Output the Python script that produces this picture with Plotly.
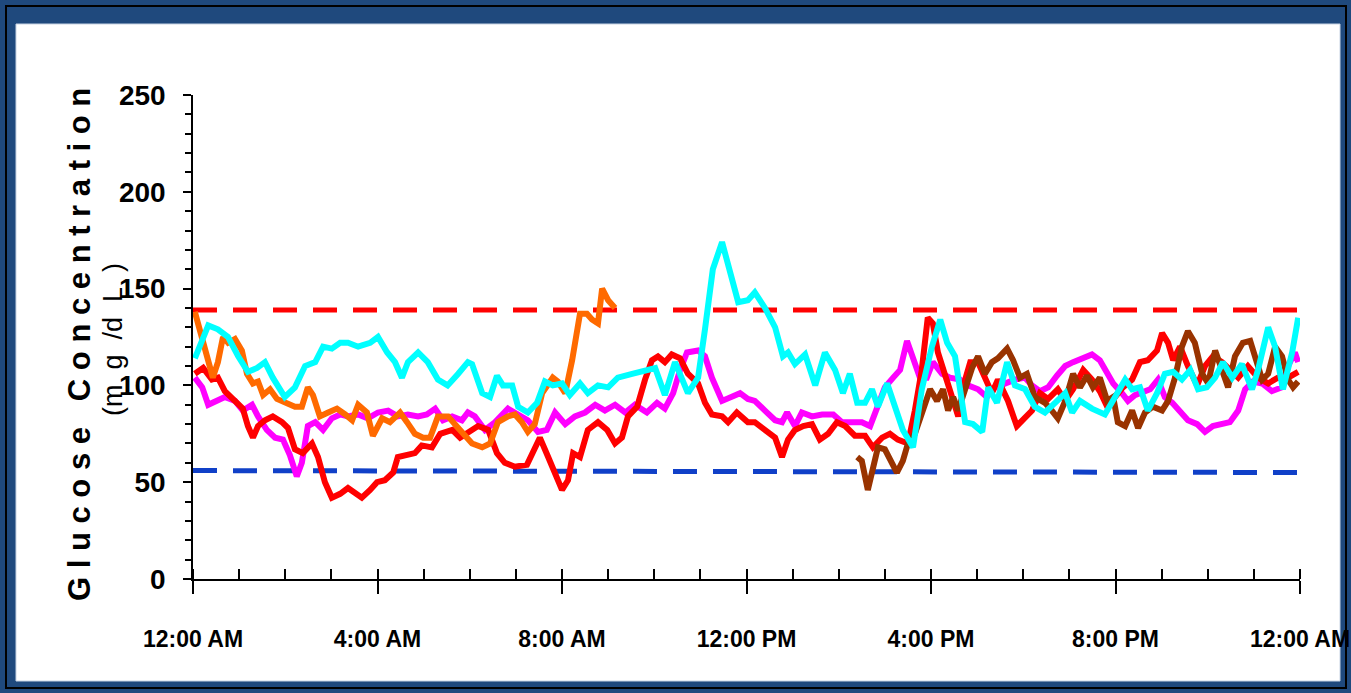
import plotly.graph_objects as go

# ---------------- data (hours since midnight, glucose mg/dL) ----------------
cyan_h = [0.04,0.33,0.54,0.76,0.98,1.19,1.39,1.56,1.73,1.99,2.21,2.43,2.65,2.82,3.01,3.19,3.36,3.58,3.84,4.01,
          4.21,4.38,4.53,4.66,4.88,5.09,5.31,5.52,5.75,5.96,6.05,6.27,6.44,6.59,6.72,6.92,7.05,7.26,7.46,7.63,
          7.80,8.00,8.17,8.39,8.56,8.78,9.00,9.21,9.52,9.84,10.02,10.23,10.45,10.73,10.95,11.10,11.27,11.47,11.69,11.82,
          12.03,12.18,12.40,12.62,12.79,12.90,13.05,13.27,13.49,13.70,13.92,14.09,14.24,14.40,14.57,14.72,14.85,15.05,15.22,15.39,
          15.61,15.80,16.02,16.20,16.35,16.52,16.74,16.91,17.11,17.24,17.43,17.65,17.82,18.04,18.25,18.47,18.69,18.91,19.06,19.23,
          19.49,19.77,19.99,20.21,20.36,20.53,20.70,20.90,21.07,21.25,21.44,21.62,21.79,21.98,22.16,22.33,22.53,22.74,22.96,23.09,
          23.31,23.46,23.63,23.83,23.96]
cyan_v = [114,131,129,125,115,107,109,112,104,94,99,110,112,120,119,122,122,120,122,125,
          117,112,104,112,117,112,103,100,106,112,111,96,94,105,100,100,89,86,91,102,
          100,101,95,101,96,100,99,104,106,108,109,95,112,96,104,129,160,174,154,143,
          144,148,140,130,115,117,111,116,100,117,108,96,106,91,91,98,89,101,89,77,
          68,98,120,134,122,115,81,80,76,99,91,112,100,98,89,86,91,96,86,92,
          88,85,94,103,98,99,87,96,106,107,103,108,98,99,104,112,104,111,98,108,
          130,120,98,117,135]

red_h = [0.04,0.22,0.41,0.54,0.69,0.91,1.08,1.19,1.30,1.41,1.56,1.73,1.93,2.06,2.21,2.38,2.58,2.71,2.86,3.01,
         3.19,3.36,3.51,3.66,3.84,3.99,4.16,4.34,4.44,4.60,4.81,4.96,5.18,5.36,5.62,5.79,5.96,6.18,6.40,6.59,
         6.76,6.98,7.24,7.41,7.52,7.70,7.89,8.00,8.13,8.24,8.39,8.56,8.78,8.98,9.15,9.30,9.43,9.63,9.80,9.95,
         10.08,10.23,10.38,10.56,10.73,10.95,11.10,11.25,11.47,11.60,11.79,12.03,12.18,12.40,12.62,12.77,12.90,13.05,13.23,13.42,
         13.59,13.77,13.96,14.14,14.35,14.57,14.74,14.94,15.11,15.28,15.50,15.65,15.80,15.93,16.04,16.15,16.30,16.46,16.59,16.74,
         16.85,17.02,17.17,17.32,17.45,17.67,17.86,18.04,18.19,18.36,18.54,18.75,18.91,19.08,19.30,19.49,19.66,19.82,19.99,20.16,
         20.36,20.53,20.70,20.90,21.01,21.14,21.25,21.40,21.57,21.77,21.94,22.11,22.31,22.48,22.66,22.87,23.09,23.31,23.52,23.74,
         23.96]
red_v = [106,109,103,104,97,92,88,79,73,79,82,84,81,78,67,65,70,63,50,42,
         44,47,44,42,46,50,51,55,63,64,65,69,68,75,77,73,76,79,77,65,
         60,58,59,68,73,63,51,46,51,65,63,77,81,77,70,73,84,89,103,113,
         115,112,116,114,106,101,91,85,84,81,86,81,81,77,73,63,72,77,79,80,
         72,75,81,79,74,74,68,73,75,72,70,87,108,135,132,117,106,94,84,103,
         112,112,104,96,103,92,79,84,87,96,93,98,92,98,108,103,97,89,94,99,
         103,112,113,118,127,122,113,120,110,100,110,115,112,108,104,110,104,101,104,104,
         107]

magenta_h = [0.04,0.20,0.33,0.48,0.69,0.91,1.08,1.28,1.41,1.60,1.78,1.95,2.10,2.25,2.36,2.49,2.65,2.82,3.01,3.19,
             3.36,3.58,3.79,4.01,4.23,4.44,4.66,4.88,5.07,5.25,5.42,5.62,5.83,5.96,6.11,6.33,6.55,6.83,7.05,7.26,
             7.48,7.67,7.85,8.07,8.28,8.50,8.72,8.93,9.15,9.37,9.58,9.84,10.06,10.23,10.41,10.56,10.71,10.95,11.10,11.25,
             11.47,11.69,11.86,12.03,12.18,12.40,12.62,12.77,12.88,13.05,13.20,13.42,13.64,13.88,14.07,14.29,14.50,14.68,14.83,15.00,
             15.18,15.33,15.48,15.61,15.76,15.91,16.04,16.24,16.41,16.63,16.80,17.02,17.21,17.39,17.60,17.82,18.04,18.19,18.36,18.54,
             18.73,18.91,19.08,19.27,19.49,19.66,19.82,19.95,20.14,20.27,20.42,20.57,20.75,20.92,21.07,21.23,21.40,21.57,21.77,21.94,
             22.11,22.31,22.48,22.66,22.81,22.98,23.18,23.39,23.61,23.74,23.89,23.96]
magenta_v = [104,99,90,92,94,92,87,90,84,77,73,72,64,53,60,79,81,77,83,85,
             84,85,83,86,87,84,85,84,85,88,82,84,82,86,84,77,81,88,85,82,
             76,77,86,80,84,86,90,87,90,86,90,86,91,88,96,108,117,118,115,104,
             92,94,96,93,92,87,82,81,86,79,86,84,85,85,81,81,81,79,89,99,
             104,108,123,113,104,104,112,106,104,103,100,98,94,99,101,103,104,100,97,99,
             105,110,112,114,116,113,107,101,96,92,95,96,98,103,94,91,87,82,80,76,
             79,80,81,87,98,102,101,97,99,110,117,112]

orange_h = [0.04,0.20,0.33,0.43,0.54,0.65,0.76,0.91,1.06,1.17,1.30,1.41,1.52,1.67,1.82,1.99,2.21,2.36,2.49,2.60,
            2.75,2.93,3.12,3.30,3.45,3.58,3.77,3.90,4.10,4.27,4.49,4.64,4.81,4.99,5.14,5.31,5.53,5.75,5.96,6.05,
            6.27,6.44,6.61,6.83,6.98,7.13,7.26,7.41,7.57,7.70,7.80,7.91,8.07,8.22,8.39,8.54,8.65,8.78,8.87,9.00,
            9.15]
orange_v = [138,125,112,104,112,125,122,124,118,106,101,102,95,98,93,91,89,89,99,95,
            84,86,88,85,82,90,86,74,83,81,86,81,75,73,73,84,84,78,73,70,
            68,70,81,84,85,81,76,80,96,100,104,102,96,113,137,137,134,132,150,144,
            140]

brown_h = [14.40,14.50,14.63,14.74,14.85,15.00,15.15,15.26,15.39,15.50,15.65,15.93,15.98,16.13,16.26,16.37,16.48,16.59,16.74,16.89,
           17.02,17.17,17.32,17.45,17.65,17.78,17.93,18.08,18.25,18.47,18.62,18.75,18.91,19.08,19.23,19.38,19.51,19.66,19.82,19.95,
           20.05,20.21,20.36,20.49,20.64,20.81,21.01,21.14,21.29,21.44,21.57,21.72,21.88,22.01,22.16,22.31,22.44,22.59,22.76,22.92,
           23.02,23.18,23.31,23.46,23.61,23.74,23.85,23.96]
brown_v = [63,61,46,56,68,67,60,55,61,70,75,96,98,92,98,87,94,87,99,109,
           115,106,112,114,119,113,104,106,94,91,87,83,92,106,99,105,99,104,92,94,
           81,79,87,78,86,89,87,92,104,120,128,122,106,101,118,108,99,115,122,123,
           115,103,106,120,115,103,99,102]

limit_h = [0, 24]
upper_limit = [139, 139]
lower_limit = [56, 55]

tick_hours = [0, 4, 8, 12, 16, 20, 24]
tick_text = ["12:00 AM", "4:00 AM", "8:00 AM", "12:00 PM", "4:00 PM", "8:00 PM", "12:00 AM"]

# ---------------- figure ----------------
W, H = 1351, 693
L, R, T, B = 193, 51, 95, 114
pw, ph = W - L - R, H - T - B

def px(x):
    return (x - L) / pw

def py(y):
    return (H - B - y) / ph

fig = go.Figure()

fig.add_trace(go.Scatter(x=limit_h, y=upper_limit, mode="lines",
                         line=dict(color="#ff0000", width=5, dash="24px,16px"), showlegend=False))
fig.add_trace(go.Scatter(x=limit_h, y=lower_limit, mode="lines",
                         line=dict(color="#1040c8", width=5, dash="24px,16px"), showlegend=False))

series = [
    (magenta_h, magenta_v, "#ff00ff"),
    (red_h, red_v, "#ff0000"),
    (brown_h, brown_v, "#993300"),
    (orange_h, orange_v, "#ff6a00"),
    (cyan_h, cyan_v, "#00ffff"),
]
for xs, ys, col in series:
    fig.add_trace(go.Scatter(x=xs, y=ys, mode="lines",
                             line=dict(color=col, width=6), showlegend=False))

sans = "Liberation Sans, Arial, sans-serif"

fig.update_xaxes(range=[0, 24], showline=True, linecolor="black", linewidth=1.5,
                 showgrid=False, zeroline=False, automargin=False,
                 tickmode="array", tickvals=tick_hours, ticktext=tick_text,
                 ticks="outside", ticklen=13, tickwidth=1.5, tickcolor="black",
                 ticklabelstandoff=26,
                 tickfont=dict(family=sans, size=23, color="black", weight="bold"),
                 minor=dict(dtick=1, tick0=0, ticks="inside", ticklen=10, tickwidth=1.5, tickcolor="black"))
fig.update_yaxes(range=[0, 250], showline=True, linecolor="black", linewidth=1.5,
                 showgrid=False, zeroline=False, automargin=False,
                 tickmode="linear", tick0=0, dtick=50,
                 ticks="outside", ticklen=8, tickwidth=1.5, tickcolor="black",
                 ticklabelstandoff=12,
                 tickfont=dict(family=sans, size=28, color="black", weight="bold"),
                 minor=dict(dtick=10, tick0=0, ticks="outside", ticklen=6, tickwidth=1.5, tickcolor="black"))

shapes = [
    dict(type="rect", xref="paper", yref="paper", x0=px(6), x1=px(1346), y0=py(688), y1=py(6),
         line=dict(color="black", width=2), fillcolor="rgba(0,0,0,0)", layer="below"),
    dict(type="rect", xref="paper", yref="paper", x0=px(16), x1=px(1340), y0=py(681), y1=py(24),
         line=dict(color="#c8d4e4", width=1), fillcolor="white", layer="below"),
]

title_main = "G l u c o s e \u00a0 C o n c e n t r a t i o n"
title_unit = "(m\u00a0 g\u00a0 /d\u00a0 L\u00a0 )"
annotations = [
    dict(text=title_main, xref="paper", yref="paper", x=px(79), y=py(345), textangle=-90,
         showarrow=False, xanchor="center", yanchor="middle",
         font=dict(family=sans, size=31, color="black", weight="bold")),
    dict(text=title_unit, xref="paper", yref="paper", x=px(113), y=py(340), textangle=-90,
         showarrow=False, xanchor="center", yanchor="middle",
         font=dict(family=sans, size=27, color="black")),
]

fig.update_layout(width=W, height=H, margin=dict(l=L, r=R, t=T, b=B, pad=0, autoexpand=False),
                  paper_bgcolor="#1f497d", plot_bgcolor="white",
                  shapes=shapes, annotations=annotations, showlegend=False)

fig.write_html("out.html", config={"displayModeBar": False},
               post_script="document.body.style.margin='0';document.body.style.overflow='hidden';")
